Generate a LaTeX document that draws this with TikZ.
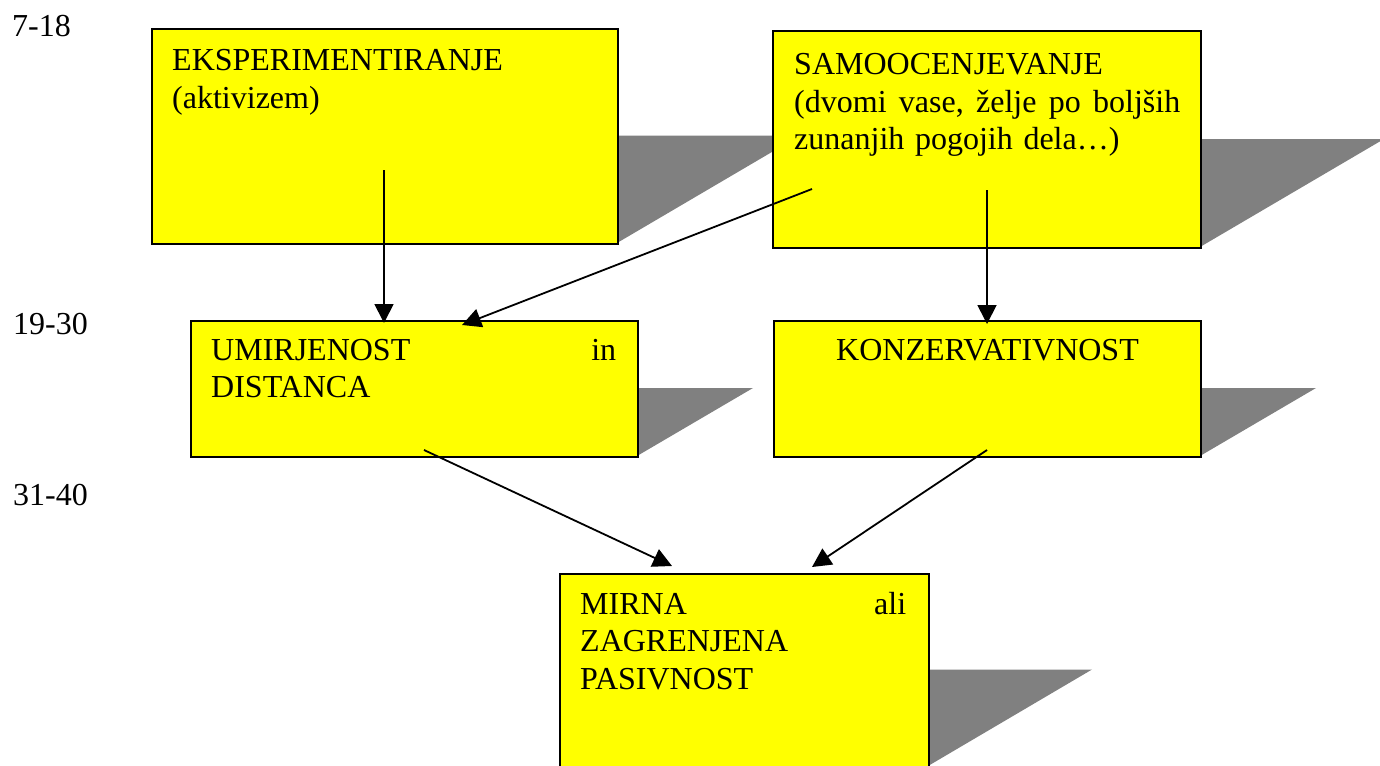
\documentclass[tikz,border=0pt]{standalone}
\usepackage{fontspec}
\setmainfont{Liberation Serif}
\usetikzlibrary{arrows.meta,calc}
\definecolor{boxyellow}{RGB}{255,255,0}
\definecolor{shadowgray}{RGB}{128,128,128}
\tikzset{
  box/.style={draw=black, line width=2pt, fill=boxyellow, rectangle, inner sep=0pt, anchor=north west},
  txt/.style={inner sep=0pt, anchor=base west, align=left, font=\fontsize{32}{37.5}\selectfont},
  lbl/.style={inner sep=0pt, anchor=base west, font=\fontsize{32}{37.5}\selectfont},
  shadow/.style={fill=shadowgray, draw=none},
  conn/.style={draw=black, line width=1.8pt, -{Triangle[length=19pt,width=19pt]}}
}
\begin{document}
\begin{tikzpicture}[x=1pt,y=-1pt]
\useasboundingbox (0,0) rectangle (1380,765);
% shadows
\fill[shadow] (617,135.5) -- (800,135.5) -- (617,243) -- cycle;
\fill[shadow] (1200,139) -- (1384,139) -- (1200,247) -- cycle;
\fill[shadow] (637,388) -- (753,388) -- (637,456) -- cycle;
\fill[shadow] (1200,388) -- (1316,388) -- (1200,456) -- cycle;
\fill[shadow] (928,669.5) -- (1092,669.5) -- (928,766) -- cycle;
% boxes
\node[box, minimum width=466, minimum height=215] (b1) at (151,28) {};
\node[box, minimum width=428, minimum height=217] (b2) at (772,30) {};
\node[box, minimum width=447, minimum height=136] (b3) at (190,320) {};
\node[box, minimum width=427, minimum height=136] (b4) at (773,320) {};
\node[box, minimum width=369, minimum height=193] (b5) at (559,573) {};
% texts
\node[txt, text width=424] (t1) at ($(b1.north west)+(21,43)$) {EKSPERIMENTIRANJE\\(aktivizem)};
\node[txt, text width=386] (t2) at ($(b2.north west)+(22,45)$) {SAMOOCENJEVANJE\\(dvomi\hfill vase,\hfill želje\hfill po\hfill boljših\\zunanjih pogojih dela…)};
\node[txt, text width=405] (t3) at ($(b3.north west)+(21,40)$) {UMIRJENOST\hfill in\\DISTANCA};
\node[lbl, anchor=base] (t4) at ($(b4.north)+(0,40)$) {KONZERVATIVNOST};
\node[txt, text width=326] (t5) at ($(b5.north west)+(21,41)$) {MIRNA\hfill ali\\ZAGRENJENA\\PASIVNOST};
% left labels
\node[lbl] (l1) at (12,37) {7-18};
\node[lbl] (l2) at (13,334) {19-30};
\node[lbl] (l3) at (13,505) {31-40};
% connectors
\coordinate (s1) at (384,170);
\coordinate (e1) at (384,323);
\coordinate (s2) at (812,189);
\coordinate (e2) at (462,325);
\coordinate (s3) at (987,190);
\coordinate (e3) at (987,324);
\coordinate (s4) at (424,450);
\coordinate (e4) at (672,566);
\coordinate (s5) at (987,450);
\coordinate (e5) at (812,567);
\draw[conn] (s1) -- (e1);
\draw[conn] (s2) -- (e2);
\draw[conn] (s3) -- (e3);
\draw[conn] (s4) -- (e4);
\draw[conn] (s5) -- (e5);
\end{tikzpicture}
\end{document}
